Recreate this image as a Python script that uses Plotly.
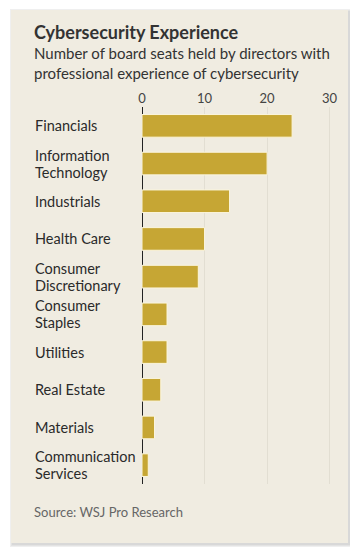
import plotly.graph_objects as go

categories = ["Financials", "Information<br>Technology", "Industrials", "Health Care",
              "Consumer<br>Discretionary", "Consumer<br>Staples", "Utilities",
              "Real Estate", "Materials", "Communication<br>Services"]
seats = [24, 20, 14, 10, 9, 4, 4, 3, 2, 1]
tick_vals = [0, 10, 20, 30]

OFF = 8  # default page body margin
W, H = 358 - OFF, 553 - OFF
L, R, T, B = 142 - OFF, 19, 107 - OFF, 69
PW, PH = W - L - R, H - T - B

def px(x):
    return (x - OFF - L) / PW

def py(y):
    return 1 - (y - OFF - T) / PH

FONT = "Lato"
fig = go.Figure()
fig.add_trace(go.Bar(
    y=list(range(len(categories))), x=seats, orientation="h",
    marker=dict(color="#c6a634", line=dict(color="#fbf5dc", width=1)),
    width=0.6, hoverinfo="skip"))

shapes = []
for o, c in [(4, "#efefef"), (3, "#e3e3e3"), (2, "#d8d8d8")]:
    shapes.append(dict(type="rect", xref="paper", yref="paper", layer="below",
                       x0=px(11 - o + 3), x1=px(348 + o), y0=py(10 - o + 3), y1=py(543 + o),
                       fillcolor=c, line=dict(width=0)))
shapes.append(dict(type="rect", xref="paper", yref="paper", layer="below",
                   x0=px(11), x1=px(348), y0=py(10), y1=py(543),
                   fillcolor="#f0ece1", line=dict(width=0)))

annotations = []
for i, c in enumerate(categories):
    lines = c.split("<br>")
    shifts = [0] if len(lines) == 1 else [8.5, -8.5]
    for ln, s in zip(lines, shifts):
        annotations.append(dict(xref="paper", yref="y", x=px(33), y=i, yshift=s, text=ln,
                                showarrow=False, xanchor="left", yanchor="middle", align="left",
                                font=dict(family=FONT, size=14.5, color="#2a2a2a")))
annotations.append(dict(xref="paper", yref="paper", x=px(32), y=py(32), text="<b>Cybersecurity Experience</b>",
                        showarrow=False, xanchor="left", yanchor="middle",
                        font=dict(family=FONT, size=18, color="#333")))
annotations.append(dict(xref="paper", yref="paper", x=px(32), y=py(63),
                        text="Number of board seats held by directors with<br>professional experience of cybersecurity",
                        showarrow=False, xanchor="left", yanchor="middle", align="left",
                        font=dict(family=FONT, size=15, color="#333")))
annotations.append(dict(xref="paper", yref="paper", x=px(32), y=py(512),
                        text="Source: WSJ Pro Research",
                        showarrow=False, xanchor="left", yanchor="middle",
                        font=dict(family=FONT, size=13, color="#666")))

fig.update_layout(
    width=W, height=H, margin=dict(l=L, r=R, t=T, b=B),
    paper_bgcolor="white", plot_bgcolor="rgba(0,0,0,0)",
    showlegend=False, shapes=shapes, annotations=annotations, bargap=0.4,
    xaxis=dict(range=[0, 31.5], side="top", tickvals=tick_vals, showgrid=True,
               gridcolor="#e2ded2", gridwidth=1, zeroline=True, zerolinecolor="#222",
               zerolinewidth=1, showline=False, ticks="", fixedrange=True,
               tickfont=dict(family=FONT, size=13, color="#444")),
    yaxis=dict(range=[9.5, -0.5], showticklabels=False, showgrid=False, zeroline=False,
               fixedrange=True),
)
fig.write_html("out.html")
